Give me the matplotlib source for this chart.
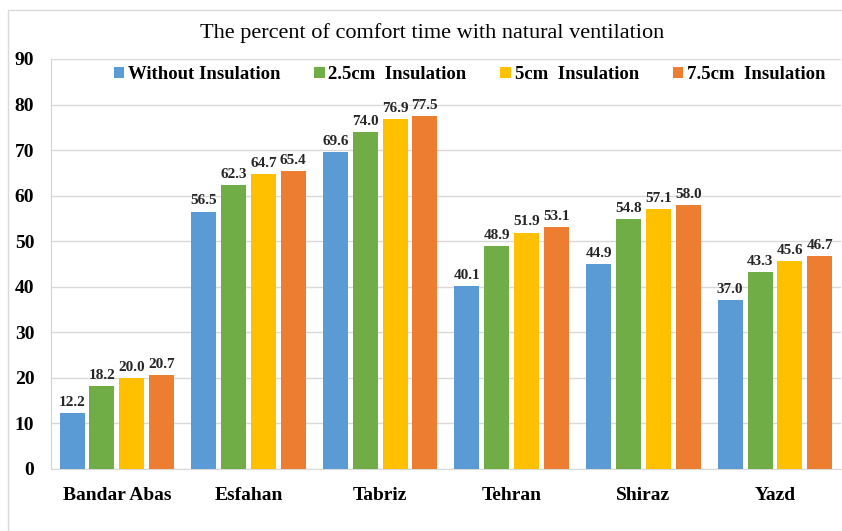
import matplotlib.pyplot as plt
import matplotlib.patches as mpatches
import numpy as np

plt.rcParams['font.family'] = ['Liberation Serif', 'DejaVu Serif']

cities = ["Bandar Abas", "Esfahan", "Tabriz", "Tehran", "Shiraz", "Yazd"]
series_names = ["Without Insulation", "2.5cm  Insulation", "5cm  Insulation", "7.5cm  Insulation"]
without_ins = [12.2, 56.5, 69.6, 40.1, 44.9, 37.0]
ins_2_5 = [18.2, 62.3, 74.0, 48.9, 54.8, 43.3]
ins_5 = [20.0, 64.7, 76.9, 51.9, 57.1, 45.6]
ins_7_5 = [20.7, 65.4, 77.5, 53.1, 58.0, 46.7]
colors = ["#5B9BD5", "#70AD47", "#FFC000", "#ED7D31"]

fig = plt.figure(figsize=(8.42, 5.31), dpi=100)
ax = fig.add_axes([0.0606, 0.1168, 0.938, 0.7722])

# light frame around the chart area, like the Excel chart border
fig.patches.append(mpatches.Rectangle((8 / 842, -0.1), 1.2, 1 - 10 / 531 + 0.1,
                                      transform=fig.transFigure, fill=False,
                                      edgecolor="#D9D9D9", linewidth=1))

x = np.arange(len(cities))
step = 0.227
width = 0.19
for i, (vals, name) in enumerate(zip([without_ins, ins_2_5, ins_5, ins_7_5], series_names)):
    pos = x + (i - 1.5) * step
    bars = ax.bar(pos, vals, width, color=colors[i], label=name, zorder=3)
    for b, v in zip(bars, vals):
        ax.text(b.get_x() + b.get_width() / 2, v + 0.9, f"{v:.1f}",
                ha="center", va="bottom", fontsize=11, fontweight="bold", color="#262626")

ax.set_xlim(-0.5, len(cities) - 0.5)
ax.set_ylim(0, 90)
ax.set_yticks(range(0, 91, 10))
ax.set_xticks(x)
ax.set_xticklabels(cities, fontsize=14, fontweight="bold")
ax.tick_params(axis="y", labelsize=14, length=0, pad=12)
ax.tick_params(axis="x", length=0, pad=13)
for lab in ax.get_yticklabels():
    lab.set_fontweight("bold")
ax.grid(axis="y", color="#D9D9D9", linewidth=1, zorder=0)
for s in ["top", "right"]:
    ax.spines[s].set_visible(False)
ax.spines["left"].set_color("#BDD7EE")
ax.spines["bottom"].set_color("#D9D9D9")

fig.text(0.513, 0.937, "The percent of comfort time with natural ventilation",
         ha="center", va="center", fontsize=16)

leg = ax.legend(loc="center", bbox_to_anchor=(0.53, 0.962), ncol=4, frameon=False,
                prop={"size": 13.5, "weight": "bold"}, handlelength=0.55, handleheight=0.55,
                columnspacing=1.8, handletextpad=0.2)

fig.savefig("out.png", dpi=100)
